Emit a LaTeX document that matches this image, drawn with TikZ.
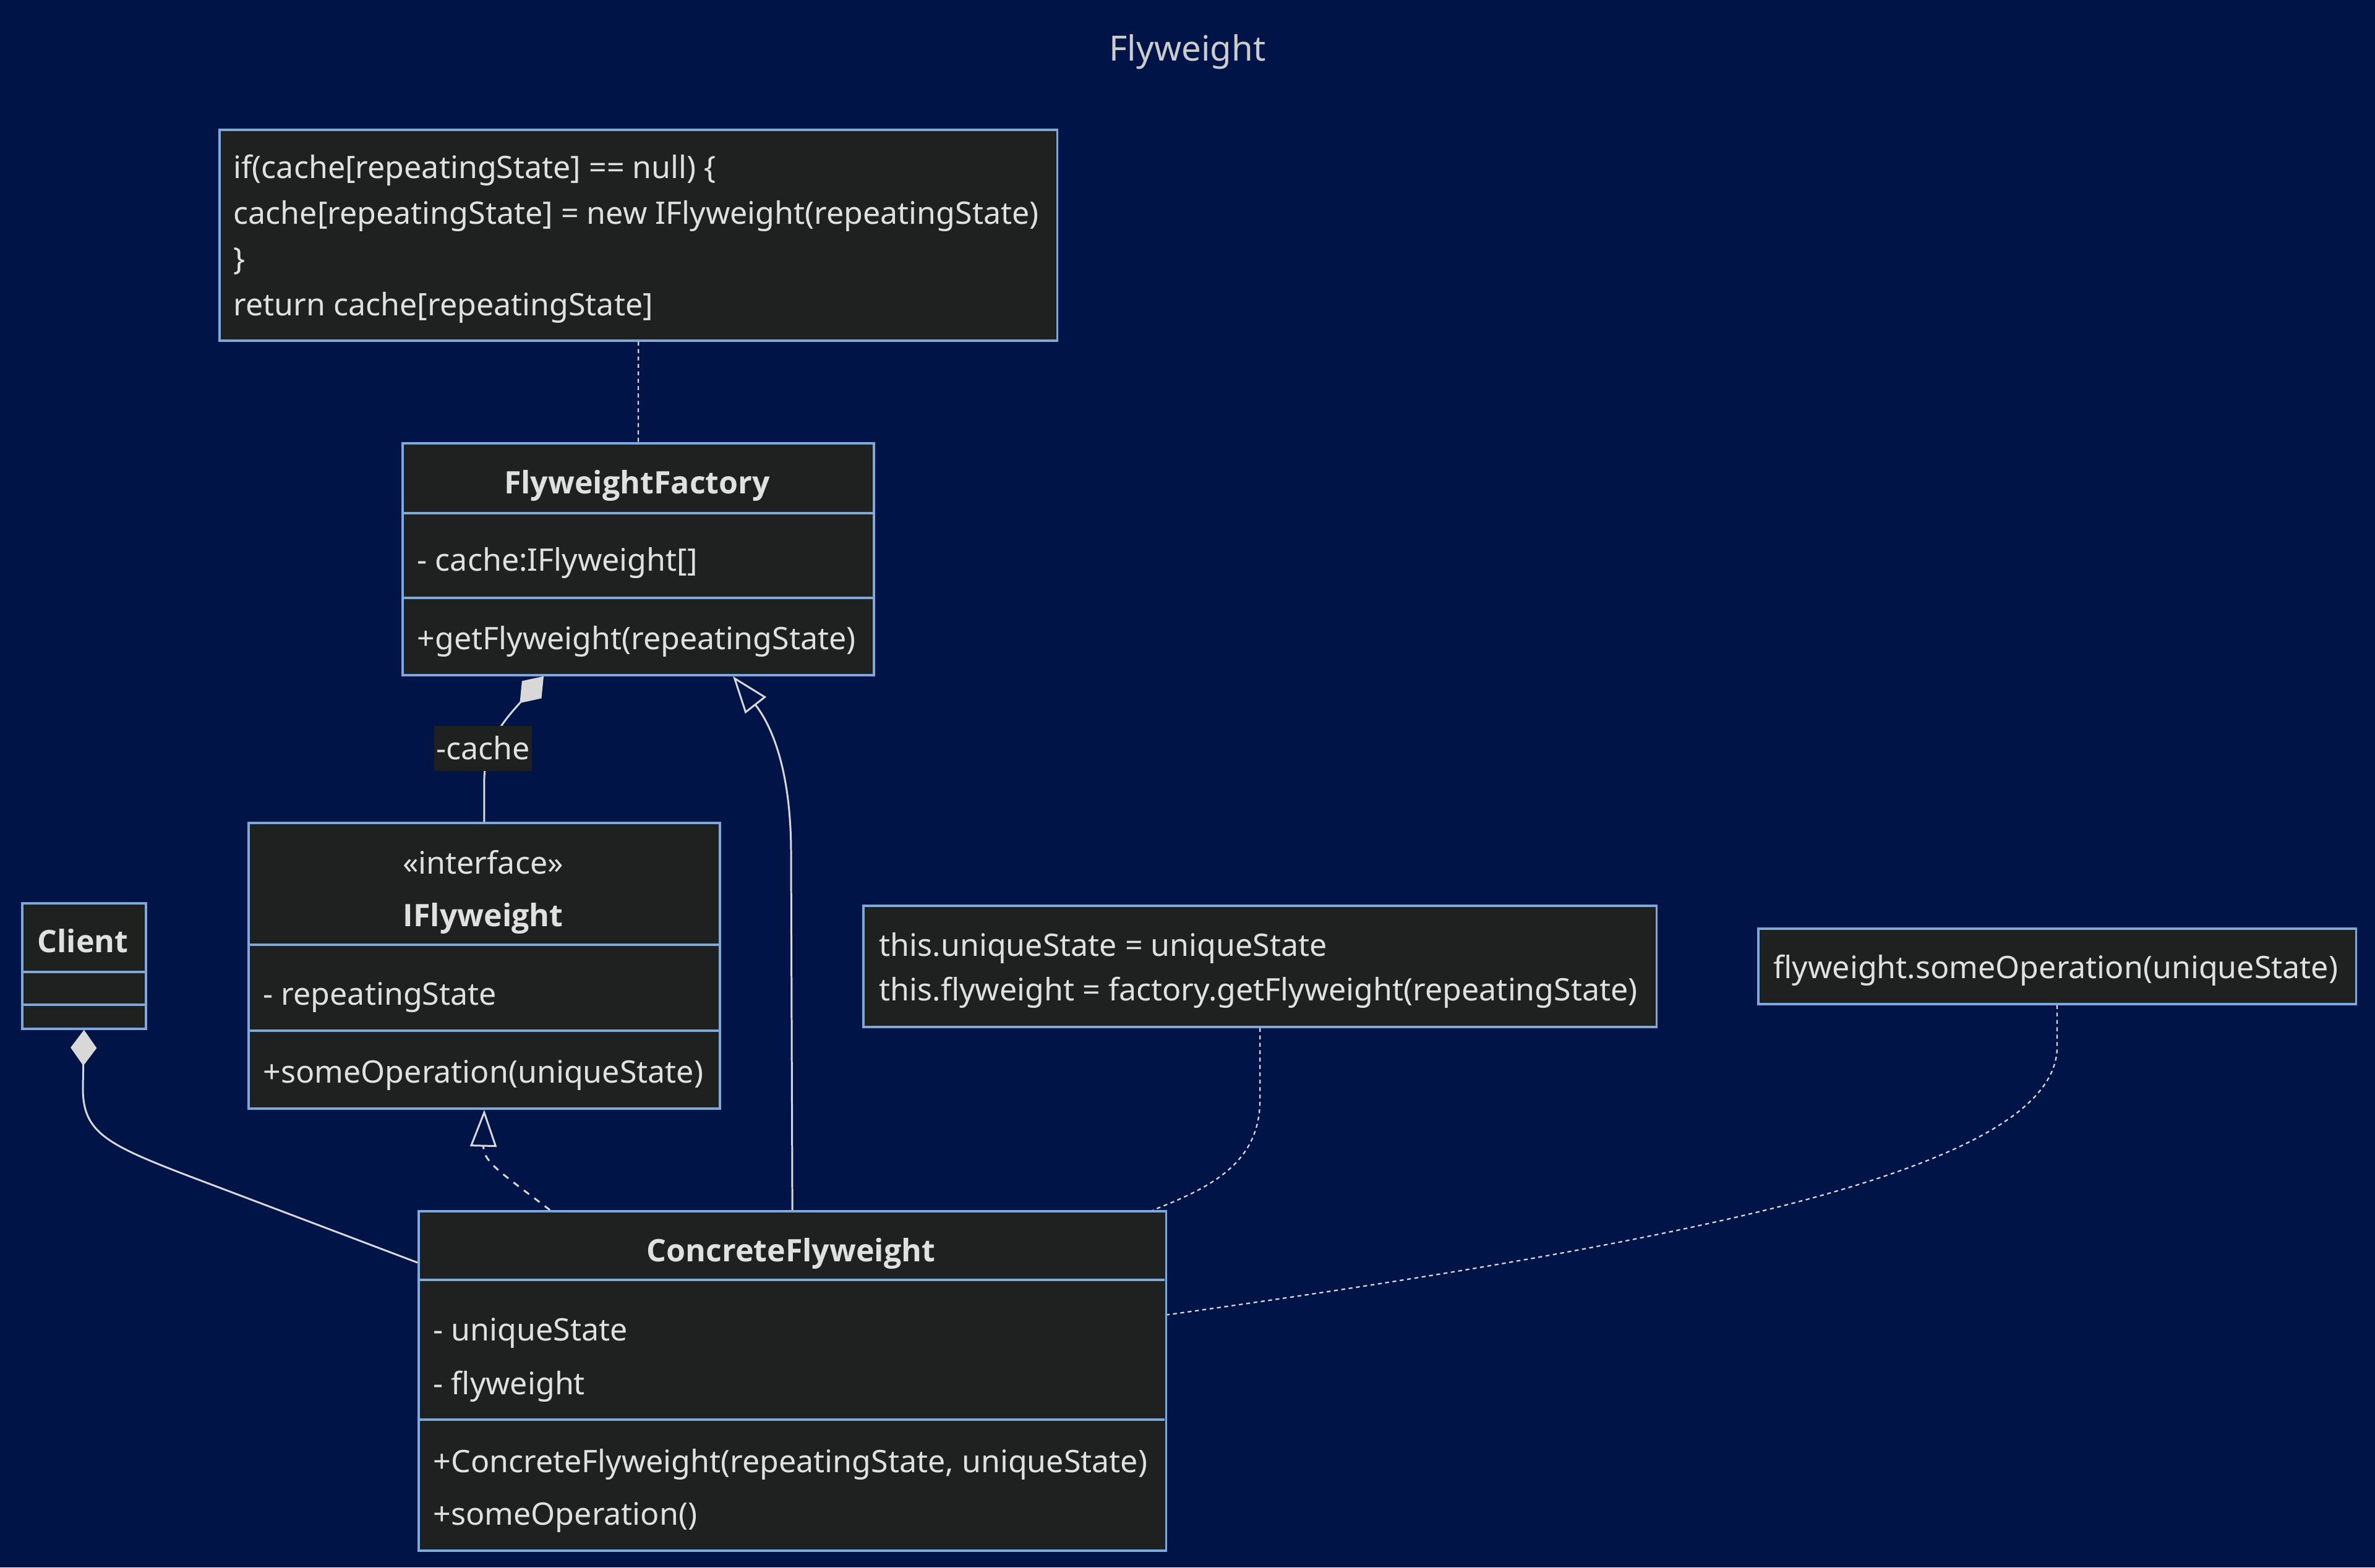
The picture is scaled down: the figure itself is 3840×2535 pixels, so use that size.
\documentclass[tikz,border=0pt]{standalone}
\usepackage{fontspec}
\setmainfont{Noto Sans}
\newfontfamily\clsfont{Open Sans}
\usetikzlibrary{arrows.meta,calc}
\definecolor{bg}{HTML}{001447}
\definecolor{boxfill}{HTML}{1F2020}
\definecolor{boxline}{HTML}{7EA9D8}
\definecolor{txtc}{HTML}{E0E0E0}
\definecolor{ttlc}{HTML}{CCCCCC}
\definecolor{lnkc}{HTML}{D8D8D8}
\begin{document}
\begin{tikzpicture}[x=0.01cm, y=-0.01cm,
  box/.style={draw=boxline, fill=boxfill, line width=1pt, inner sep=0pt, anchor=north west},
  divider/.style={draw=boxline, line width=1pt},
  txt/.style={text=txtc, inner sep=0pt, text height=0.38cm, text depth=0cm, anchor=west,
    font=\fontsize{14.25}{17}\selectfont},
  ctxt/.style={txt, anchor=center},
  btxt/.style={ctxt, font=\fontsize{14.25}{17}\selectfont\clsfont\bfseries},
  rel/.style={draw=lnkc, line width=0.85pt},
  notelink/.style={draw=lnkc, line width=0.65pt, dash pattern=on 1.8pt off 1.6pt},
  compo/.style={-{Diamond[length=16.5pt, width=12pt]}},
  inherit/.style={-{Triangle[open, length=17pt, width=12.2pt]}},
]
\useasboundingbox[fill=bg] (0,0) rectangle (3840,2535);

% title
\node[text=ttlc, inner sep=0pt, text height=0.42cm, text depth=0cm, font=\fontsize{16}{19}\selectfont] (title) at (1920,77) {Flyweight};

% note 1
\node[box, minimum width=13.54cm, minimum height=3.41cm] (n1) at (353,208) {};
\node[txt] (n1a) at (377,269) {if(cache[repeatingState] == null) \{};
\node[txt] (n1b) at (377,343) {cache[repeatingState] = new IFlyweight(repeatingState)};
\node[txt] (n1c) at (377,417) {\}};
\node[txt] (n1d) at (377,491) {return cache[repeatingState]};

% FlyweightFactory
\node[box, minimum width=7.62cm, minimum height=3.75cm] (fac) at (649,715) {};
\draw[divider] (649,830) -- (1411,830);
\draw[divider] (649,967) -- (1411,967);
\node[btxt] (facT) at (1030,779) {FlyweightFactory};
\node[txt] (facA) at (674,904) {- cache:IFlyweight[]};
\node[txt] (facM) at (674,1031) {+getFlyweight(repeatingState)};

% IFlyweight
\node[box, minimum width=7.62cm, minimum height=4.62cm] (ifly) at (400,1329) {};
\draw[divider] (400,1528) -- (1162,1528);
\draw[divider] (400,1667) -- (1162,1667);
\node[ctxt] (iflyS) at (781,1394) {«interface»};
\node[btxt] (iflyT) at (781,1479) {IFlyweight};
\node[txt] (iflyA) at (425,1606) {- repeatingState};
\node[txt] (iflyM) at (425,1732) {+someOperation(uniqueState)};

% Client
\node[box, minimum width=2.00cm, minimum height=2.03cm] (cli) at (34,1459) {};
\draw[divider] (34,1572) -- (234,1572);
\draw[divider] (34,1625) -- (234,1625);
\node[btxt] (cliT) at (134,1521) {Client};

% ConcreteFlyweight
\node[box, minimum width=12.08cm, minimum height=5.49cm] (conc) at (675,1957) {};
\draw[divider] (675,2070) -- (1883,2070);
\draw[divider] (675,2296) -- (1883,2296);
\node[btxt] (concT) at (1279,2021) {ConcreteFlyweight};
\node[txt] (concA1) at (700,2149) {- uniqueState};
\node[txt] (concA2) at (700,2236) {- flyweight};
\node[txt] (concM1) at (700,2362) {+ConcreteFlyweight(repeatingState, uniqueState)};
\node[txt] (concM2) at (700,2447) {+someOperation()};

% note 2
\node[box, minimum width=12.82cm, minimum height=1.96cm] (n2) at (1394,1463) {};
\node[txt] (n2a) at (1421,1527) {this.uniqueState = uniqueState};
\node[txt] (n2b) at (1421,1599) {this.flyweight = factory.getFlyweight(repeatingState)};

% note 3
\node[box, minimum width=9.66cm, minimum height=1.22cm] (n3) at (2841,1500) {};
\node[txt] (n3a) at (2867,1563) {flyweight.someOperation(uniqueState)};

% connectors
\draw[notelink] (n1.south) -- (fac.north);

\draw[rel, compo] (ifly.north) -- ++(0,-60)
  .. controls (781,1200) and (820,1160) .. ($(fac.south)+(-153,0)$);
\node[fill=boxfill, text=txtc, inner xsep=1pt, inner ysep=0pt, minimum height=0.73cm,
  font=\fontsize{14.25}{17}\selectfont] (cachelbl) at (781,1210) {-cache};

\draw[rel, inherit] (conc.north) -- (1279,1380)
  .. controls (1279,1240) and (1245,1170) .. ($(fac.south)+(153,0)$);

\draw[rel, inherit, dash pattern=on 3pt off 3pt] ($(conc.north)+(-392,0)$)
  .. controls (815,1900) and (781,1880) .. (ifly.south);

\draw[rel, compo] ($(conc.north west)+(0,85)$) -- (300,1900)
  .. controls (170,1850) and (134,1830) .. (134,1760) -- (cli.south);

\draw[notelink] (n2.south) -- ++(0,120)
  .. controls (2035,1880) and (1960,1920) .. ($(conc.north east)+(-23,0)$);

\draw[notelink] (n3.south) -- ++(0,68)
  .. controls (3324,1880) and (2800,2000) .. ($(conc.east)+(0,-107)$);
\end{tikzpicture}
\end{document}
